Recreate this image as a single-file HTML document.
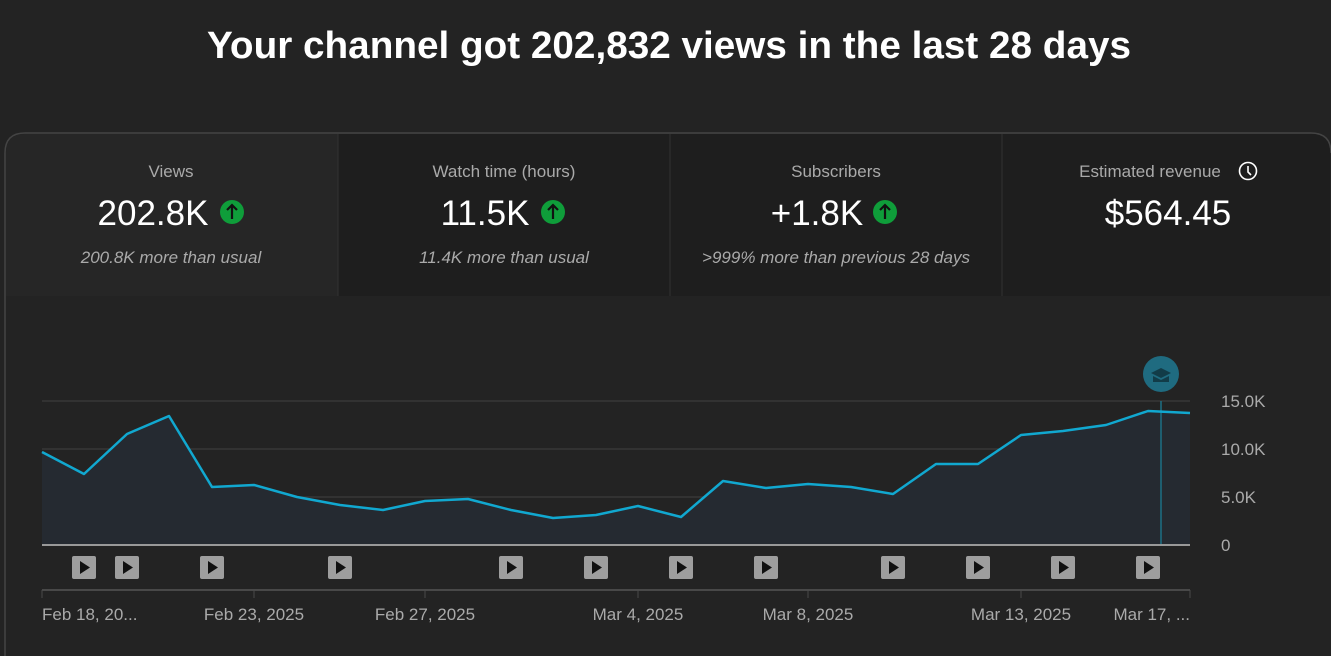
<!DOCTYPE html>
<html><head><meta charset="utf-8"><style>
html,body{margin:0;padding:0;background:#232323;width:1331px;height:656px;overflow:hidden}
svg{display:block;font-family:"Liberation Sans",sans-serif}
</style></head><body>
<svg width="1331" height="656" viewBox="0 0 1331 656">
<rect width="1331" height="656" fill="#232323"/>
<text x="669" y="58" text-anchor="middle" font-size="38" font-weight="bold" fill="#fff" textLength="924" lengthAdjust="spacingAndGlyphs">Your channel got 202,832 views in the last 28 days</text>
<path d="M5,656 V153 Q5,133 25,133 H1311 Q1331,133 1331,153" fill="none" stroke="#444" stroke-width="1.5"/>
<path d="M338,134 H1311 Q1330,134 1330,153 V296 H338 Z" fill="#1e1e1e"/>
<path d="M6,296 V153 Q6,134 25,134 H338 V296 Z" fill="#262626"/>
<line x1="338" y1="134" x2="338" y2="296" stroke="#333"/>
<line x1="670" y1="134" x2="670" y2="296" stroke="#333"/>
<line x1="1002" y1="134" x2="1002" y2="296" stroke="#333"/>
<g font-size="17" fill="#aaa" text-anchor="middle">
<text x="171" y="177">Views</text>
<text x="504" y="177">Watch time (hours)</text>
<text x="836" y="177">Subscribers</text>
<text x="1150" y="177">Estimated revenue</text>
</g>
<circle cx="1248" cy="171" r="8.5" fill="none" stroke="#fff" stroke-width="1.6"/>
<path d="M1248,166 V172 L1251,175" fill="none" stroke="#fff" stroke-width="1.6"/>
<g font-size="35" fill="#fff" text-anchor="middle">
<text x="153" y="225">202.8K</text>
<text x="485" y="225">11.5K</text>
<text x="817" y="225">+1.8K</text>
<text x="1168" y="225">$564.45</text>
</g>
<g fill="#0f9d3a">
<circle cx="232" cy="212" r="12"/><circle cx="553" cy="212" r="12"/><circle cx="885" cy="212" r="12"/>
</g>
<g stroke="#111" stroke-width="2.2" fill="none">
<path d="M232,219 V205 M227,210 L232,205 L237,210"/>
<path d="M553,219 V205 M548,210 L553,205 L558,210"/>
<path d="M885,219 V205 M880,210 L885,205 L890,210"/>
</g>
<g font-size="17" fill="#aaa" font-style="italic" text-anchor="middle">
<text x="171" y="263">200.8K more than usual</text>
<text x="504" y="263">11.4K more than usual</text>
<text x="836" y="263">&gt;999% more than previous 28 days</text>
</g>
<g stroke="#383838" stroke-width="1.5">
<line x1="42" y1="401" x2="1190" y2="401"/>
<line x1="42" y1="449" x2="1190" y2="449"/>
<line x1="42" y1="497" x2="1190" y2="497"/>
</g>
<path d="M42,452 L84,474 L127,434 L169,416 L212,487 L254,485 L297,497 L340,505 L383,510 L425,501 L468,499 L511,510 L553,518 L596,515 L638,506 L681,517 L723,481 L766,488 L808,484 L851,487 L893,494 L936,464 L978,464 L1021,435 L1063,431 L1106,425 L1148,411 L1190,413 V545 H42 Z" fill="#252a31"/>
<line x1="1161" y1="401" x2="1161" y2="545" stroke="#1d6f85" stroke-width="1.5"/>
<path d="M42,452 L84,474 L127,434 L169,416 L212,487 L254,485 L297,497 L340,505 L383,510 L425,501 L468,499 L511,510 L553,518 L596,515 L638,506 L681,517 L723,481 L766,488 L808,484 L851,487 L893,494 L936,464 L978,464 L1021,435 L1063,431 L1106,425 L1148,411 L1190,413" fill="none" stroke="#11a8d0" stroke-width="2.5" stroke-linejoin="round"/>
<line x1="42" y1="545" x2="1190" y2="545" stroke="#999" stroke-width="2"/>
<circle cx="1161" cy="374" r="18" fill="#1f6b80"/>
<path d="M1151,373 L1161,368 L1171,373 L1161,378 Z M1153,376 V382 H1169 V376 L1161,380 Z" fill="#123c48"/>
<g font-size="17" fill="#aaa">
<text x="1221" y="407">15.0K</text>
<text x="1221" y="455">10.0K</text>
<text x="1221" y="503">5.0K</text>
<text x="1221" y="551">0</text>
</g>
<g fill="#9e9e9e">
<rect x="72" y="556" width="24" height="23" rx="2"/><rect x="115" y="556" width="24" height="23" rx="2"/>
<rect x="200" y="556" width="24" height="23" rx="2"/><rect x="328" y="556" width="24" height="23" rx="2"/>
<rect x="499" y="556" width="24" height="23" rx="2"/><rect x="584" y="556" width="24" height="23" rx="2"/>
<rect x="669" y="556" width="24" height="23" rx="2"/><rect x="754" y="556" width="24" height="23" rx="2"/>
<rect x="881" y="556" width="24" height="23" rx="2"/><rect x="966" y="556" width="24" height="23" rx="2"/>
<rect x="1051" y="556" width="24" height="23" rx="2"/><rect x="1136" y="556" width="24" height="23" rx="2"/>
</g>
<g fill="#111">
<path d="M80,561 L90,567.5 L80,574 Z"/><path d="M123,561 L133,567.5 L123,574 Z"/>
<path d="M208,561 L218,567.5 L208,574 Z"/><path d="M336,561 L346,567.5 L336,574 Z"/>
<path d="M507,561 L517,567.5 L507,574 Z"/><path d="M592,561 L602,567.5 L592,574 Z"/>
<path d="M677,561 L687,567.5 L677,574 Z"/><path d="M762,561 L772,567.5 L762,574 Z"/>
<path d="M889,561 L899,567.5 L889,574 Z"/><path d="M974,561 L984,567.5 L974,574 Z"/>
<path d="M1059,561 L1069,567.5 L1059,574 Z"/><path d="M1144,561 L1154,567.5 L1144,574 Z"/>
</g>
<line x1="42" y1="590" x2="1190" y2="590" stroke="#555" stroke-width="1.5"/>
<g stroke="#4a4a4a" stroke-width="1">
<line x1="42" y1="590" x2="42" y2="598"/><line x1="254" y1="590" x2="254" y2="598"/>
<line x1="425" y1="590" x2="425" y2="598"/><line x1="638" y1="590" x2="638" y2="598"/>
<line x1="808" y1="590" x2="808" y2="598"/><line x1="1021" y1="590" x2="1021" y2="598"/>
<line x1="1190" y1="590" x2="1190" y2="598"/>
</g>
<g font-size="17" fill="#aaa" text-anchor="middle">
<text x="42" y="620" text-anchor="start">Feb 18, 20...</text>
<text x="254" y="620">Feb 23, 2025</text>
<text x="425" y="620">Feb 27, 2025</text>
<text x="638" y="620">Mar 4, 2025</text>
<text x="808" y="620">Mar 8, 2025</text>
<text x="1021" y="620">Mar 13, 2025</text>
<text x="1190" y="620" text-anchor="end">Mar 17, ...</text>
</g>
</svg>
</body></html>
